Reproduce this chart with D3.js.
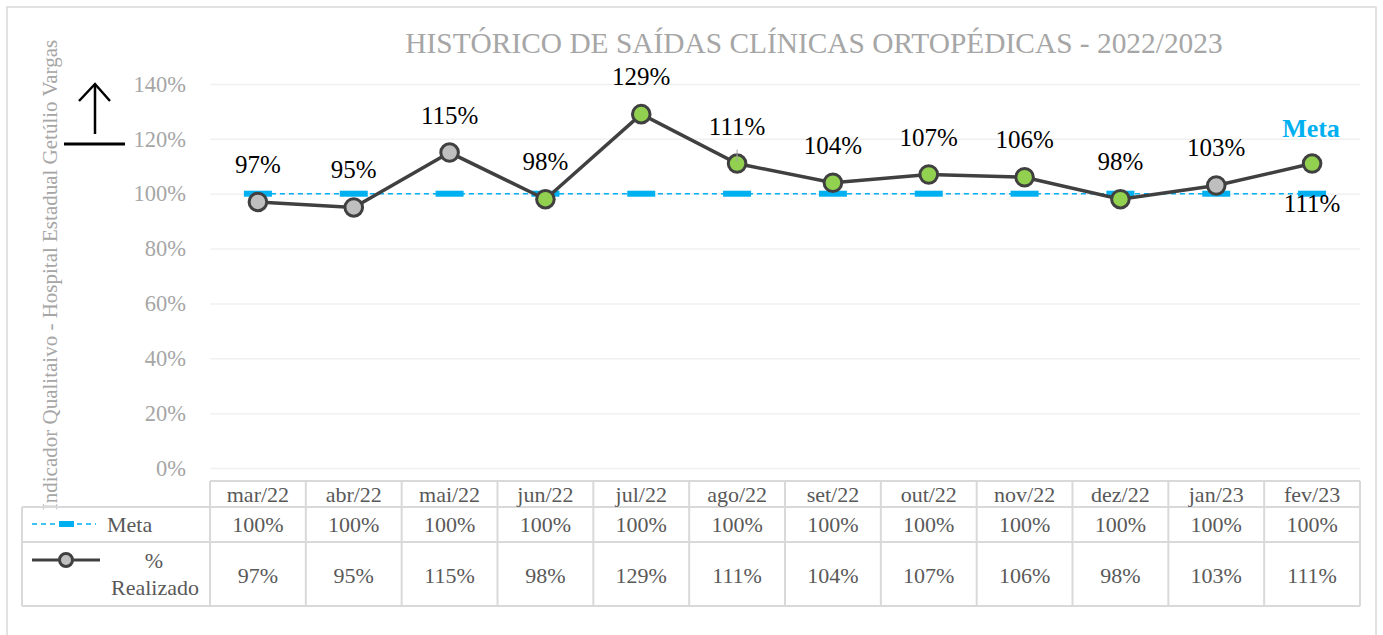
<!DOCTYPE html>
<html>
<head>
<meta charset="utf-8">
<script src="https://cdn.jsdelivr.net/npm/d3@7"></script>
<style>
  body { margin: 0; background: #fff; }
</style>
</head>
<body>
<div class="wrapper"></div>
<script>
// chart data
var months = ["mar/22", "abr/22", "mai/22", "jun/22", "jul/22", "ago/22", "set/22", "out/22", "nov/22", "dez/22", "jan/23", "fev/23"];
var meta = [100, 100, 100, 100, 100, 100, 100, 100, 100, 100, 100, 100];
var realizado = [97, 95, 115, 98, 129, 111, 104, 107, 106, 98, 103, 111];
var pointFill = ["#bfbfbf", "#bfbfbf", "#bfbfbf", "#92d050", "#92d050", "#92d050", "#92d050", "#92d050", "#92d050", "#92d050", "#bfbfbf", "#92d050"];
var yTicks = [0, 20, 40, 60, 80, 100, 120, 140];

var W = 1383, H = 635;
var plot = {left: 210, right: 1360, top: 84, bottom: 468};
var FONT = "'Liberation Serif', 'Times New Roman', serif";

var svg = d3.select(".wrapper")
  .append("svg")
    .attr("width", W)
    .attr("height", H)
    .style("font-family", FONT);

// outer frame
svg.append("rect")
    .attr("x", 7).attr("y", 7)
    .attr("width", 1369).attr("height", 640)
    .attr("fill", "#fff")
    .attr("stroke", "#d9d9d9")
    .attr("stroke-width", 1.5);

var x = d3.scaleBand()
    .domain(months)
    .range([plot.left, plot.right]);

var y = d3.scaleLinear()
    .domain([0, 140])
    .range([plot.bottom, plot.top]);

var cx = function(d, i) { return x(months[i]) + x.bandwidth() / 2; };

// title
svg.append("text")
    .attr("x", 814).attr("y", 53)
    .attr("text-anchor", "middle")
    .attr("fill", "#a6a6a6")
    .style("font-family", FONT)
    .style("font-size", "29.4px")
    .text("HISTÓRICO DE SAÍDAS CLÍNICAS ORTOPÉDICAS - 2022/2023");

// gridlines + y labels
var yAxis = svg.append("g")
    .attr("transform", "translate(" + plot.left + ",0)")
    .call(d3.axisLeft(y).tickValues(yTicks).tickSize(-(plot.right - plot.left)).tickFormat(function(d) { return d + "%"; }));
yAxis.attr("font-family", null);
yAxis.select(".domain").remove();
yAxis.selectAll(".tick line").attr("stroke", "#f0f0f0").attr("stroke-width", 1.5);
yAxis.selectAll(".tick text")
    .attr("x", -24)
    .attr("fill", "#a6a6a6")
    .style("font-size", "22.5px")
    .style("font-family", FONT);

// y axis title
svg.append("text")
    .attr("transform", "translate(57,275) rotate(-90)")
    .attr("text-anchor", "middle")
    .attr("fill", "#a6a6a6")
    .style("font-family", FONT)
    .style("font-size", "21px")
    .text("Indicador Qualitaivo - Hospital Estadual Getúlio Vargas");

// arrow symbol
var arrow = svg.append("g").attr("stroke", "#000").attr("stroke-width", 2.5).attr("fill", "none");
arrow.append("line").attr("x1", 95).attr("y1", 84).attr("x2", 95).attr("y2", 134);
arrow.append("polyline").attr("points", "79,101 95,84 110,101");
arrow.append("line").attr("x1", 64).attr("y1", 144).attr("x2", 125).attr("y2", 144).attr("stroke-width", 3);

// meta line
var valueLine = d3.line()
    .x(cx)
    .y(function(d) { return y(d); });

svg.append("path")
    .datum(meta)
    .attr("d", d3.line().x(function(d, i) { return i == 0 ? cx(d, i) - 14 : cx(d, i); }).y(function(d) { return y(d); }))
    .attr("fill", "none")
    .attr("stroke", "#00b0f0")
    .attr("stroke-width", 1.5)
    .attr("stroke-dasharray", "5,4");

svg.append("g")
  .selectAll("rect")
  .data(meta)
  .enter().append("rect")
    .attr("x", function(d, i) { return cx(d, i) - 14; })
    .attr("y", function(d) { return y(d) - 3; })
    .attr("width", 28)
    .attr("height", 6)
    .attr("fill", "#00b0f0");

// realizado line
svg.append("path")
    .datum(realizado)
    .attr("d", valueLine)
    .attr("fill", "none")
    .attr("stroke", "#404040")
    .attr("stroke-width", 3.5);

svg.append("g")
  .selectAll("circle")
  .data(realizado)
  .enter().append("circle")
    .attr("cx", cx)
    .attr("cy", function(d) { return y(d); })
    .attr("r", 8.8)
    .attr("fill", function(d, i) { return pointFill[i]; })
    .attr("stroke", "#404040")
    .attr("stroke-width", 3);

// small leader line at ago/22
svg.append("line")
    .attr("x1", cx(0, 5)).attr("x2", cx(0, 5))
    .attr("y1", y(realizado[5]) - 14).attr("y2", y(realizado[5]) - 2)
    .attr("stroke", "#a6a6a6").attr("stroke-width", 1);

// data labels
svg.append("g")
  .selectAll("text")
  .data(realizado)
  .enter().append("text")
    .attr("x", cx)
    .attr("y", function(d, i) { return i == 11 ? y(d) + 48 : y(d) - 29; })
    .attr("text-anchor", "middle")
    .attr("fill", "#000")
    .style("font-family", FONT)
    .style("font-size", "25px")
    .text(function(d) { return d + "%"; });

svg.append("text")
    .attr("x", 1311).attr("y", 137)
    .attr("text-anchor", "middle")
    .attr("fill", "#00b0f0")
    .style("font-family", FONT)
    .style("font-size", "26px")
    .style("font-weight", "bold")
    .text("Meta");

// data table
var table = svg.append("g");
var rowY = [481, 507, 542, 606];
var gridColor = "#d9d9d9";
var textColor = "#595959";

// horizontal lines
table.append("line").attr("x1", plot.left).attr("x2", plot.right).attr("y1", rowY[0]).attr("y2", rowY[0]);
[1, 2, 3].forEach(function(r) {
  table.append("line").attr("x1", 22).attr("x2", plot.right).attr("y1", rowY[r]).attr("y2", rowY[r]);
});
// vertical lines
table.append("line").attr("x1", 22).attr("x2", 22).attr("y1", rowY[1]).attr("y2", rowY[3]);
months.forEach(function(m, i) {
  table.append("line").attr("x1", x(m)).attr("x2", x(m)).attr("y1", rowY[0]).attr("y2", rowY[3]);
});
table.append("line").attr("x1", plot.right).attr("x2", plot.right).attr("y1", rowY[0]).attr("y2", rowY[3]);
table.selectAll("line").attr("stroke", gridColor).attr("stroke-width", 2);

function cellText(cls, data, yPos, fmt) {
  table.selectAll("text." + cls)
    .data(data)
    .enter().append("text")
      .attr("class", cls)
      .attr("x", cx)
      .attr("y", yPos)
      .attr("text-anchor", "middle")
      .attr("fill", textColor)
      .style("font-family", FONT)
      .style("font-size", "22px")
      .text(fmt);
}
cellText("month", months, 502, function(d) { return d; });
cellText("meta", meta, 532, function(d) { return d + "%"; });
cellText("real", realizado, 583, function(d) { return d + "%"; });

// legend keys
table.append("line")
    .attr("x1", 32).attr("x2", 96).attr("y1", 524).attr("y2", 524)
    .attr("stroke", "#00b0f0").attr("stroke-width", 1.5).attr("stroke-dasharray", "5,4");
table.append("rect").attr("x", 59).attr("y", 521).attr("width", 15).attr("height", 6).attr("fill", "#00b0f0");
table.append("text").attr("x", 107).attr("y", 532).attr("fill", textColor)
    .style("font-family", FONT).style("font-size", "22px").text("Meta");

table.append("line")
    .attr("x1", 32).attr("x2", 100).attr("y1", 560).attr("y2", 560)
    .attr("stroke", "#404040").attr("stroke-width", 3);
table.append("circle").attr("cx", 66).attr("cy", 560).attr("r", 6.5)
    .attr("fill", "#bfbfbf").attr("stroke", "#404040").attr("stroke-width", 3);
table.append("text").attr("x", 154).attr("y", 568).attr("text-anchor", "middle").attr("fill", textColor)
    .style("font-family", FONT).style("font-size", "22px").text("%");
table.append("text").attr("x", 155).attr("y", 595).attr("text-anchor", "middle").attr("fill", textColor)
    .style("font-family", FONT).style("font-size", "22px").text("Realizado");
</script>
</body>
</html>
